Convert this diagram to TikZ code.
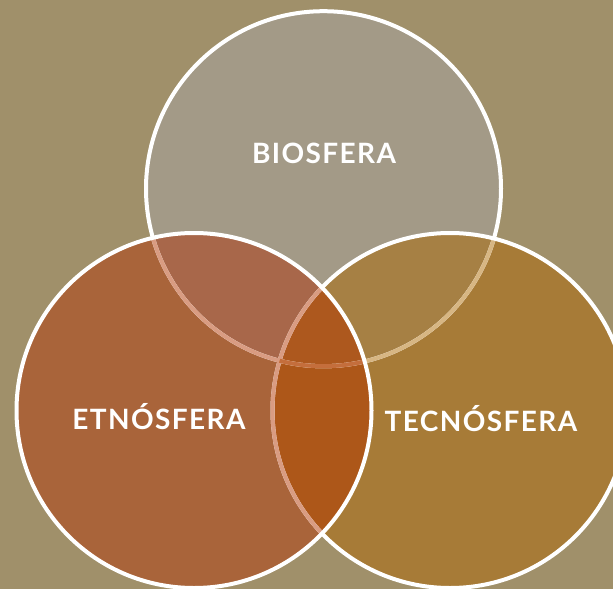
\documentclass[tikz,border=0pt]{standalone}
\usepackage{fontspec}
\setmainfont{Lato}
\definecolor{backdrop}{HTML}{A0906A}
\definecolor{biocol}{HTML}{A39A87}
\definecolor{etnocol}{HTML}{A9643A}
\definecolor{tecnocol}{HTML}{A77B37}
\definecolor{bioetno}{HTML}{A8674A}
\definecolor{biotecno}{HTML}{A68044}
\definecolor{etnotecno}{HTML}{AD5719}
\definecolor{allcol}{HTML}{AD581E}
\definecolor{seampink}{HTML}{D99C82}
\definecolor{seamtan}{HTML}{D7B683}
\definecolor{seamorange}{HTML}{C46E3C}
\tikzset{
    ring/.style={draw=white,line width=4pt},
    seam/.style={line width=4pt},
    sphere/.style={text=white,anchor=base,inner sep=0pt,
        font=\bfseries\fontsize{28}{28}\selectfont\addfontfeatures{LetterSpace=5}}
}
\def\sr{177.5pt}

\begin{document}
\begin{tikzpicture}[x=1pt,y=-1pt]

    \clip (0,0) rectangle (613,589);
    \fill[backdrop] (0,0) rectangle (613,589);

    \coordinate (bio)   at (323.5,188.7);
    \coordinate (etno)  at (194,410.5);
    \coordinate (tecno) at (450,410.5);

    % plain fills
    \fill[biocol]   (bio)   circle (\sr);
    \fill[tecnocol] (tecno) circle (\sr);
    \fill[etnocol]  (etno)  circle (\sr);

    % overlaps
    \begin{scope}
        \clip (etno) circle (\sr);
        \fill[etnotecno] (tecno) circle (\sr);
    \end{scope}
    \begin{scope}
        \clip (bio) circle (\sr);
        \fill[bioetno]  (etno)  circle (\sr);
        \fill[biotecno] (tecno) circle (\sr);
        \clip (etno) circle (\sr);
        \fill[allcol] (tecno) circle (\sr);
    \end{scope}

    % borders
    \draw[ring] (bio) circle (\sr);
    \begin{scope}
        \clip (tecno) circle (\sr);
        \draw[seam,seamtan] (bio) circle (\sr);
    \end{scope}
    \draw[ring] (tecno) circle (\sr);
    \begin{scope}
        \clip (etno) circle (\sr);
        \draw[seam,seampink] (bio) circle (\sr);
        \draw[seam,seampink] (tecno) circle (\sr);
        \clip (tecno) circle (\sr);
        \draw[seam,seamorange] (bio) circle (\sr);
    \end{scope}
    \draw[ring] (etno) circle (\sr);

    \node[sphere] (biosfera)   at (324,163)   {BIOSFERA};
    \node[sphere] (etnosfera)  at (159,429)   {ETNÓSFERA};
    \node[sphere] (tecnosfera) at (481,431)   {TECNÓSFERA};

\end{tikzpicture}
\end{document}
